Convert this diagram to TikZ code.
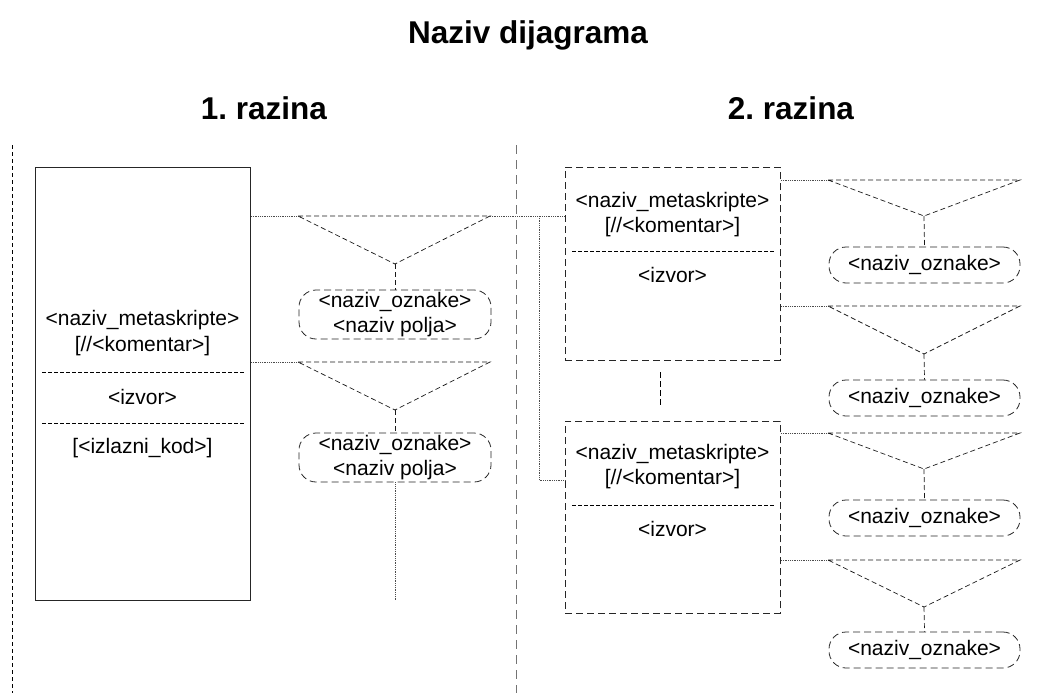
\documentclass[tikz,border=0pt]{standalone}
\usepackage{fontspec}
\setmainfont{Liberation Sans}
\usetikzlibrary{positioning,calc}

\tikzset{
  txt/.style={font=\fontsize{21}{25}\selectfont, inner sep=0pt},
  naslov/.style={font=\fontsize{31.5}{36}\selectfont\bfseries\frenchspacing, inner sep=0pt},
  skripta/.style={draw=black!85, line width=0.9pt, anchor=north west, inner sep=0pt, minimum width=215pt},
  podskripta/.style={skripta, draw=black!85, dash pattern=on 7pt off 4pt},
  oznaka/.style={draw=black!85, line width=0.8pt, dash pattern=on 7pt off 4pt, rounded corners=17pt,
    minimum width=192pt, inner sep=0pt, align=center, font=\fontsize{21}{25}\selectfont},
  trokut/.style={draw=black!90, line width=0.7pt, dash pattern=on 5pt off 3pt},
  veza/.style={draw=black!70, line width=0.7pt, dash pattern=on 1pt off 0.8pt},
  razdjel/.style={draw=black, line width=0.8pt, dash pattern=on 4pt off 2pt},
}

\begin{document}
\begin{tikzpicture}[x=1pt, y=-1pt]
        \useasboundingbox (0,0) rectangle (1056,693);

        % Naslovi.
        \node[naslov] (naslov) at (528,35) {Naziv dijagrama};
        \node[naslov] (razina1) at (264,108) {1. razina};
        \node[naslov] (razina2) at (791,108) {2. razina};

        % Granice razina.
        \draw[black, line width=0.7pt, dash pattern=on 4pt off 3pt] (12,145) -- (12,693);
        \draw[black!55, line width=1pt, dash pattern=on 9pt off 6pt] (516,145) -- (516,693);

        %1. razina
        \node[skripta, minimum height=433pt] (s1) at (35,167) {};
        \node[txt] (s1ime) at (142.5,320) {<naziv\_metaskripte>};
        \node[txt] (s1kom) at (142.5,346) {[//<komentar>]};
        \draw[razdjel] (42,372) -- (245,372);
        \node[txt] (s1izv) at (142.5,397) {<izvor>};
        \draw[razdjel] (42,423) -- (245,423);
        \node[txt] (s1kod) at (142.5,448) {[<izlazni\_kod>]};

        %oznaka 1
        \coordinate (t1l) at (298,216);
        \coordinate (t1r) at (490,216);
        \coordinate (t1v) at (395,264);
        \node[oznaka, minimum height=49pt] (o1) at (395,314.5) {<naziv\_oznake>\\<naziv polja>};
        \draw[veza] (s1.east |- t1l) -- (t1l);
        \draw[trokut] (t1l) -- (t1r) -- (t1v) -- cycle;
        \draw[trokut] (t1v) -- (o1.north);

        %oznaka 2
        \coordinate (t2l) at (298,362);
        \coordinate (t2r) at (490,362);
        \coordinate (t2v) at (395,410);
        \coordinate (kraj) at (395,600);
        \node[oznaka, minimum height=49pt] (o2) at (395,457.5) {<naziv\_oznake>\\<naziv polja>};
        \draw[veza] (s1.east |- t2l) -- (t2l);
        \draw[trokut] (t2l) -- (t2r) -- (t2v) -- cycle;
        \draw[trokut] (t2v) -- (o2.north);
        \draw[veza] (o2.south) -- (kraj);

        %2. razina
        \node[podskripta, minimum height=193pt] (s2) at (565,167) {};
        \node[txt] (s2ime) at (672.5,202) {<naziv\_metaskripte>};
        \node[txt] (s2kom) at (672.5,227) {[//<komentar>]};
        \draw[razdjel] (572,251) -- (775,251);
        \node[txt] (s2izv) at (672.5,275) {<izvor>};

        \draw[black, line width=1pt, dash pattern=on 6pt off 3pt] (660,372) -- (660,407);

        \node[podskripta, minimum height=192pt] (s3) at (565,421) {};
        \node[txt] (s3ime) at (672.5,454) {<naziv\_metaskripte>};
        \node[txt] (s3kom) at (672.5,479) {[//<komentar>]};
        \draw[razdjel] (572,505) -- (775,505);
        \node[txt] (s3izv) at (672.5,529) {<izvor>};

        % veze izmedju razina
        \coordinate (grana) at (539,216);
        \draw[veza] (t1r) -- (s2.west |- t1r);
        \draw[veza] (grana) |- (s3.west |- 0,480);

        % oznake 2. razine
        \foreach \i/\y/\v/\o [count=\n] in {s2/180/216/265, s2/306/354/398, s3/433/469/518, s3/560/607/650}{
          \coordinate (r\n l) at (828,\y);
          \coordinate (r\n r) at (1020,\y);
          \coordinate (r\n v) at (924,\v);
          \node[oznaka, minimum height=36pt, minimum width=191pt] (p\n) at (924.5,\o) {<naziv\_oznake>};
          \draw[veza] (\i.east |- r\n l) -- (r\n l);
          \draw[trokut] (r\n l) -- (r\n r) -- (r\n v) -- cycle;
          \draw[trokut] (r\n v) -- (p\n.north);
        }
    \end{tikzpicture}
\end{document}
